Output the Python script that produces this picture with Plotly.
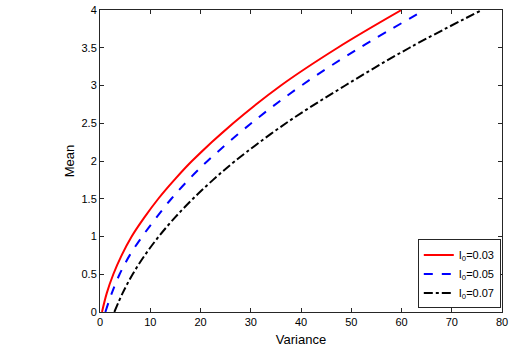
import plotly.graph_objects as go

# Mean levels (y) at which the variance (x) of each curve was read
mean_vals = [0, 0.25, 0.5, 0.75, 1, 1.25, 1.5, 1.75, 2, 2.5, 3, 3.5, 4]
var_i003 = [0.4, 1.35, 2.65, 4.3, 6.3, 8.8, 11.6, 14.8, 18.3, 26.5, 36.0, 47.3, 60.0]
var_i005 = [1.07, 2.35, 3.9, 5.9, 8.4, 11.2, 14.2, 17.6, 21.4, 30.1, 40.1, 51.7, 64.6]
var_i007 = [2.86, 4.5, 6.5, 8.9, 11.7, 14.9, 18.5, 22.5, 26.9, 37.0, 48.8, 61.6, 76.0]

series = [
    ("I<sub>0</sub>=0.03", var_i003, "#ff0000", "solid"),
    ("I<sub>0</sub>=0.05", var_i005, "#0000ff", "dash"),
    ("I<sub>0</sub>=0.07", var_i007, "#000000", "dashdot"),
]

x_ticks = [0, 10, 20, 30, 40, 50, 60, 70, 80]
y_ticks = [0, 0.5, 1, 1.5, 2, 2.5, 3, 3.5, 4]

fig = go.Figure()
for name, xs, color, dash in series:
    fig.add_trace(go.Scatter(
        x=xs, y=mean_vals, mode="lines", name=name,
        line=dict(color=color, width=2, dash=dash, shape="spline", smoothing=1.0),
    ))

axis_common = dict(
    showgrid=False, zeroline=False, showline=True, linecolor="#262626", linewidth=1,
    mirror="ticks", ticks="inside", ticklen=4, tickcolor="#262626", automargin=False,
    tickfont=dict(family="Liberation Sans, Arial, sans-serif", size=11, color="#000000"),
)

fig.update_layout(
    width=531, height=362,
    margin=dict(l=100, r=29, t=10, b=50, autoexpand=False),
    paper_bgcolor="white", plot_bgcolor="white",
    font=dict(family="Liberation Sans, Arial, sans-serif", size=11, color="#000000"),
    xaxis=dict(range=[0, 80], tickvals=x_ticks, title=dict(text="Variance", standoff=7), **axis_common),
    yaxis=dict(range=[0, 4], tickvals=y_ticks, title=dict(text="Mean", standoff=3), **axis_common),
    legend=dict(
        x=0.997, xanchor="right", y=0.012, yanchor="bottom",
        bgcolor="white", bordercolor="#262626", borderwidth=1,
        font=dict(size=11), tracegroupgap=0, itemwidth=30,
    ),
    showlegend=True,
)

fig.write_html("out.html", config={"displayModeBar": False},
               post_script="document.body.style.margin='0px';")
